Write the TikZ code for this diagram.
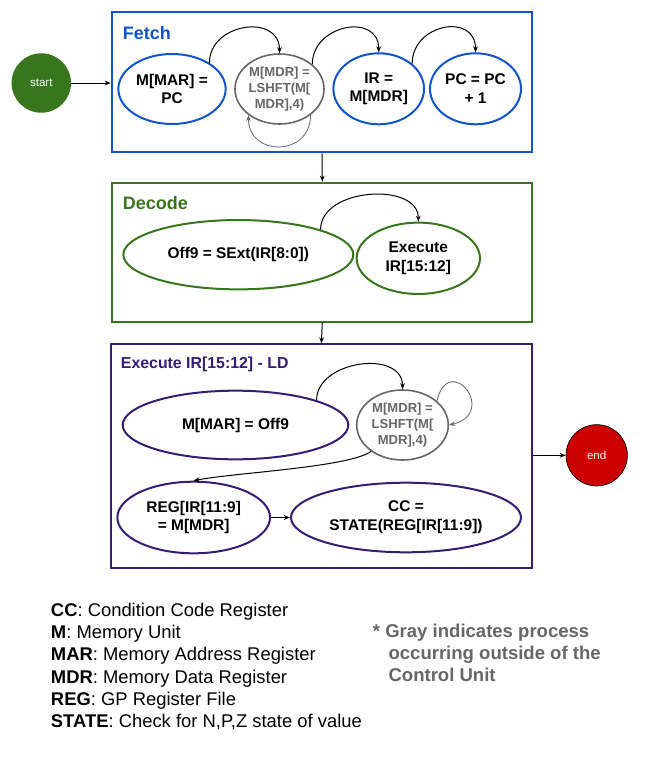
\documentclass[tikz,border=0pt]{standalone}
\usepackage{fontspec}
\setmainfont{Liberation Sans}
\usetikzlibrary{shapes.geometric,arrows.meta}

\definecolor{fetchblue}{HTML}{1155CC}
\definecolor{decodegreen}{HTML}{38761D}
\definecolor{execpurple}{HTML}{351C75}
\definecolor{procgray}{HTML}{666666}
\definecolor{endred}{HTML}{CC0000}

\begin{document}
\begin{tikzpicture}[x=0.75pt,y=0.75pt,yscale=-1,xscale=1,
  stage/.style={draw,rectangle,line width=1.5pt,inner sep=0pt},
  stagelbl/.style={anchor=west,inner sep=0pt,font=\fontsize{13.5}{16}\selectfont\bfseries},
  opnode/.style={ellipse,draw,line width=1.5pt,inner sep=0pt,align=center,font=\fontsize{11.6}{14}\selectfont\bfseries},
  outside/.style={opnode,draw=procgray,text=procgray,line width=1.2pt,font=\fontsize{9.8}{12.25}\selectfont\bfseries},
  terminal/.style={circle,inner sep=0pt,text=white,font=\fontsize{8.7}{10}\selectfont},
  conn/.style={line width=0.75pt,-{Stealth[length=4.5pt,width=3.5pt]}},
  selfloop/.style={conn,draw=procgray,line width=0.6pt}
]
\useasboundingbox (0,0) rectangle (655,760);

%Shape: Circle
\node [terminal,fill=decodegreen,minimum size=44.6pt] (start) at (41.3,83) {start};
%Shape: Circle
\node [terminal,fill=endred,draw=black,line width=0.5pt,minimum size=46pt] (end) at (596.7,455.3) {end};

%Shape: Rectangle
\node [stage,draw=fetchblue,minimum width=315.45pt,minimum height=105pt] (fetch) at (322,82.3) {};
%Shape: Rectangle
\node [stage,draw=decodegreen,minimum width=315pt,minimum height=104.25pt] (decode) at (322.3,252.2) {};
%Shape: Rectangle
\node [stage,draw=execpurple,minimum width=315.5pt,minimum height=167.55pt] (execute) at (321.35,456) {};

% Text Node
\node [stagelbl,text=fetchblue] (fetchlbl) at (122.7,33.3) {Fetch};
% Text Node
\node [stagelbl,text=decodegreen] (decodelbl) at (122.7,203.3) {Decode};
% Text Node
\node [stagelbl,text=execpurple,font=\fontsize{11.9}{14}\selectfont\bfseries] (executelbl) at (120.7,364) {Execute IR[15:12] - LD};

%Shape: Ellipse
\node [opnode,draw=fetchblue,minimum width=80.5pt,minimum height=52.5pt] (marpc) at (172,89) {M[MAR] =\\PC};
%Shape: Ellipse
\node [outside,minimum width=66.75pt,minimum height=52.5pt] (mdr1) at (279.5,89) {M[MDR] =\\LSHFT(M[\\MDR],4)};
%Shape: Ellipse
\node [opnode,draw=fetchblue,minimum width=68pt,minimum height=53.25pt] (irmdr) at (378.7,88.8) {IR =\\M[MDR]};
%Shape: Ellipse
\node [opnode,draw=fetchblue,minimum width=68.25pt,minimum height=53.25pt] (pcinc) at (475.5,88.8) {PC = PC\\+ 1};

%Shape: Ellipse
\node [opnode,draw=decodegreen,minimum width=172.5pt,minimum height=52pt] (off9) at (238.3,254.7) {Off9 = SExt(IR[8:0])};
%Shape: Ellipse
\node [opnode,draw=decodegreen,minimum width=92.5pt,minimum height=53.5pt] (exec) at (418.3,258.3) {Execute\\IR[15:12]};

%Shape: Ellipse
\node [opnode,draw=execpurple,minimum width=169.2pt,minimum height=51.5pt] (marof) at (235.5,425) {M[MAR] = Off9};
%Shape: Ellipse
\node [outside,minimum width=68.7pt,minimum height=52.5pt] (mdr2) at (402.5,425) {M[MDR] =\\LSHFT(M[\\MDR],4)};
%Shape: Ellipse
\node [opnode,draw=execpurple,minimum width=114.5pt,minimum height=53.7pt] (regmdr) at (193.7,517.5) {REG[IR[11:9]\\= M[MDR]};
%Shape: Ellipse
\node [opnode,draw=execpurple,minimum width=172.5pt,minimum height=52.2pt] (ccstate) at (406,517.5) {CC =\\STATE(REG[IR[11:9])};

%Straight Lines
\draw [conn] (start) -- (start -| fetch.west);
\draw [conn] (fetch.south) -- (decode.north);
\draw [conn] (decode.south) -- (execute.north);
\draw [conn] (end -| execute.east) -- (end);

%Curve Lines
\draw [conn] (marpc.35) .. controls +(0,-40) and +(0,-40) .. (mdr1.north);
\draw [conn] (mdr1.37) .. controls +(0,-40) and +(0,-40) .. (irmdr.north);
\draw [conn] (irmdr.37) .. controls +(0,-40) and +(0,-40) .. (pcinc.north);
\draw [selfloop] (mdr1.-40) .. controls +(0,42) and +(0,42) .. (mdr1.220);

%Curve Lines
\draw [conn] (off9.17) .. controls +(0,-42) and +(0,-40) .. (exec.north);

%Curve Lines
\draw [conn] (marof.17) .. controls +(0,-40) and +(0,-40) .. (mdr2.north);
\draw [selfloop] (mdr2.35) .. controls +(12,-50) and +(50,-12) .. (mdr2.east);
\draw [conn] (mdr2.220) .. controls +(-22,16) and +(40,-8) .. (regmdr.north);
\draw [conn] (regmdr) -- (ccstate);

% Text Node
\node [anchor=west,inner sep=0pt,align=left,font=\fontsize{13.8}{16.7}\selectfont] (legend) at (50.7,666.5)
  {\textbf{CC}: Condition Code Register\\
   \textbf{M}: Memory Unit\\
   \textbf{MAR}: Memory Address Register\\
   \textbf{MDR}: Memory Data Register\\
   \textbf{REG}: GP Register File\\
   \textbf{STATE}: Check for N,P,Z state of value};
% Text Node
\node [anchor=west,inner sep=0pt,align=left,text=procgray,font=\fontsize{13.9}{16.7}\selectfont\bfseries] (graynote) at (372.7,652.8)
  {* Gray indicates process\\
   \hspace*{11.7pt}occurring outside of the\\
   \hspace*{11.7pt}Control Unit};

\end{tikzpicture}
\end{document}
